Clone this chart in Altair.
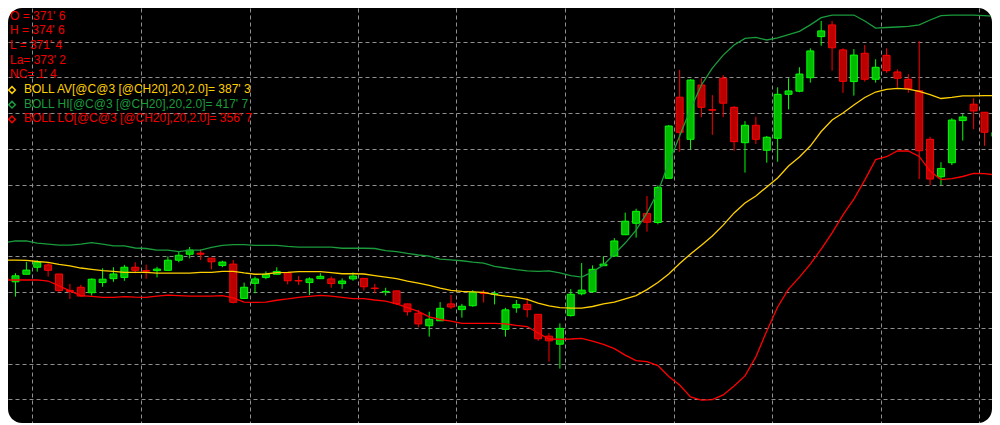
import altair as alt
import pandas as pd

# ---------------- data ----------------
BAR = list(range(-1, 91))
OPEN = [317.3, 315.8, 318.7, 321.4, 322.3, 318.8, 312.5, 313.7, 311.6, 315.5, 317.0,
        317.5, 321.4, 320.1, 320.1, 320.2, 324.1, 326.4, 326.8, 324.9, 322.1,
        322.6, 309.4, 315.2, 317.5, 318.7, 319.3, 316.3, 315.5, 317.0, 316.9,
        315.1, 316.9, 317.1, 313.4, 311.9, 312.3, 307.3, 303.7, 298.9, 300.8,
        307.3, 305.1, 306.6, 311.7, 311.0, 297.5, 305.8, 307.1, 303.3, 294.9,
        291.8, 302.8, 311.2, 312.0, 322.0, 325.7, 333.9, 338.3, 342.1, 338.6,
        355.6, 386.8, 370.6, 391.5, 382.0, 394.1, 382.9, 369.3, 376.0, 366.4,
        371.0, 387.9, 389.1, 394.3, 410.1, 414.6, 405.0, 392.8, 403.7, 393.7,
        402.9, 396.5, 393.7, 389.3, 370.6, 356.2, 361.6, 377.8, 384.1, 381.0, 371.75]
HIGH = [318.4, 319.1, 323.5, 324.1, 323.3, 318.8, 315.0, 314.6, 317.1, 321.0, 321.4,
        322.3, 323.3, 322.4, 321.6, 325.6, 327.4, 329.2, 328.3, 325.0, 323.9,
        324.2, 315.5, 317.8, 319.8, 321.4, 319.4, 318.0, 317.5, 319.1, 317.8,
        317.1, 319.4, 317.2, 315.0, 313.5, 312.4, 307.4, 305.0, 304.3, 308.0,
        310.7, 307.3, 312.6, 312.6, 312.3, 305.8, 308.8, 309.5, 303.4, 296.0,
        299.8, 313.0, 323.0, 322.1, 325.6, 332.6, 342.4, 343.9, 348.8, 352.9,
        376.1, 397.3, 393.7, 394.1, 387.6, 395.3, 383.4, 377.6, 379.3, 371.9,
        390.6, 394.1, 398.3, 405.6, 416.1, 416.1, 405.6, 405.3, 406.9, 401.4,
        405.6, 397.5, 395.7, 408.4, 371.6, 361.8, 378.7, 380.3, 386.4, 381.1, 374.75]
LOW = [315.7, 310.1, 318.7, 319.7, 317.8, 312.0, 309.2, 310.1, 310.5, 313.9, 315.8,
       316.2, 319.1, 317.0, 317.5, 320.1, 323.3, 324.8, 324.2, 320.6, 321.4,
       307.5, 309.3, 311.4, 316.8, 318.6, 314.8, 314.6, 310.7, 316.9, 313.5,
       313.1, 316.2, 312.4, 311.4, 310.5, 306.9, 302.8, 298.3, 294.7, 300.7,
       305.3, 302.0, 306.2, 307.8, 307.1, 294.7, 303.9, 302.1, 293.1, 285.1,
       282.4, 302.4, 310.6, 311.6, 321.9, 325.4, 333.8, 332.8, 335.1, 337.9,
       355.5, 365.8, 366.8, 379.1, 372.3, 379.1, 366.2, 357.8, 368.8, 361.6,
       362.0, 382.1, 388.7, 392.4, 406.6, 397.0, 388.5, 387.4, 392.8, 392.4,
       396.2, 390.6, 388.5, 355.3, 353.0, 353.0, 360.7, 370.1, 374.5, 368.1, 371.5]
CLOSE = [317.1, 318.1, 320.3, 323.3, 320.2, 312.4, 312.1, 310.3, 316.8, 316.8, 318.8,
         321.4, 320.2, 319.9, 320.7, 324.1, 326.0, 328.0, 326.4, 323.5, 323.4,
         307.9, 313.7, 316.9, 318.7, 319.8, 316.2, 316.1, 316.9, 317.9, 315.1,
         316.1, 318.0, 313.9, 313.2, 312.1, 307.4, 304.3, 299.6, 301.4, 305.6,
         306.1, 306.4, 311.8, 311.3, 311.2, 305.0, 307.1, 305.1, 293.9, 293.1,
         297.9, 311.0, 312.6, 320.6, 322.6, 331.5, 339.1, 342.9, 338.7, 352.1,
         375.7, 373.3, 393.4, 382.9, 381.8, 384.5, 369.7, 376.0, 370.6, 371.4,
         387.9, 389.2, 395.7, 404.6, 412.3, 405.8, 392.9, 403.0, 393.7, 398.3,
         397.0, 394.1, 390.1, 366.2, 355.3, 359.4, 378.0, 379.2, 381.5, 373.3, 373.25]

BOLL_HI = [330.9, 331.5, 331.5, 330.7, 330.3, 329.9, 329.9, 330.3, 330.9, 330.3, 329.6,
           329.6, 328.8, 328.6, 328.0, 328.0, 327.4, 328.0, 328.0, 329.0, 329.8,
           330.1, 330.1, 329.8, 329.8, 329.8, 329.4, 329.1, 329.1, 329.1, 329.1,
           328.7, 328.7, 328.7, 328.6, 327.8, 327.4, 326.7, 326.1, 325.7, 324.5,
           324.2, 323.9, 323.4, 323.0, 321.7, 321.1, 320.5, 320.0, 319.8, 320.0,
           319.2, 318.2, 317.6, 319.6, 322.3, 326.5, 330.7, 335.7, 342.3, 350.3,
           361.5, 371.9, 382.3, 391.5, 398.0, 403.0, 406.9, 409.4, 409.8, 408.8,
           409.6, 410.9, 412.1, 414.6, 417.4, 418.4, 418.4, 418.4, 416.1, 413.4,
           413.6, 413.8, 414.0, 414.6, 416.5, 418.2, 418.4, 418.4, 418.4, 418.2, 417.9]
BOLL_AV = [324.1, 324.1, 324.0, 323.6, 323.3, 322.5, 321.9, 321.1, 320.6, 320.1, 319.8,
           319.4, 319.4, 319.4, 319.1, 319.1, 319.1, 319.1, 319.4, 319.4, 319.8,
           319.8, 319.2, 318.7, 318.8, 319.3, 319.4, 319.7, 319.7, 319.7, 319.3,
           318.9, 318.9, 318.8, 318.2, 317.6, 317.0, 316.1, 315.3, 314.4, 313.4,
           312.5, 312.1, 311.9, 311.7, 310.9, 310.3, 309.8, 309.0, 307.6, 306.5,
           305.9, 305.7, 305.7, 306.3, 307.3, 308.0, 309.2, 310.5, 312.8, 315.5,
           318.8, 322.8, 326.5, 329.9, 333.4, 337.6, 342.3, 346.1, 348.8, 352.3,
           355.7, 360.3, 363.8, 368.0, 373.6, 378.0, 380.7, 383.8, 386.7, 388.8,
           389.8, 390.2, 389.9, 389.0, 387.8, 386.3, 386.7, 387.3, 387.3, 387.4, 387.4]
BOLL_LO = [316.5, 316.5, 316.5, 316.5, 316.1, 314.2, 312.3, 310.5, 310.2, 309.8, 309.8,
           310.1, 309.9, 309.8, 310.3, 310.7, 310.5, 310.3, 310.3, 310.3, 310.5,
           309.6, 308.0, 307.9, 308.0, 308.7, 309.2, 309.8, 310.2, 310.6, 310.3,
           309.8, 309.3, 309.3, 308.8, 308.4, 307.3, 305.9, 304.4, 302.3, 301.3,
           300.7, 299.8, 299.8, 299.8, 299.8, 299.6, 299.0, 298.6, 296.1, 293.8,
           293.7, 293.8, 294.0, 293.0, 291.7, 290.1, 287.6, 285.5, 285.1, 283.6,
           279.4, 276.1, 271.5, 270.3, 270.5, 272.3, 275.7, 279.6, 286.9, 296.9,
           306.1, 313.0, 317.6, 322.6, 328.4, 334.6, 341.5, 347.6, 354.9, 362.8,
           363.9, 366.1, 366.1, 364.0, 358.4, 355.1, 355.5, 356.3, 357.5, 357.4, 356.9]

GRID_X = [1.5, 11.5, 21.5, 31.5, 40.5, 50.5, 60.5, 69.5, 79.5, 88.5]
GRID_Y = [421.875, 408.125, 394.375, 380.625, 366.875, 353.125,
          339.375, 325.625, 311.875, 298.125, 284.375, 270.625]

INFO_LINES = ["O = 371' 6", "H = 374' 6", "L = 371' 4", "La= 373' 2", "NC= 1' 4"]
BOLL_LINES = ["BOLL AV[@C@3 [@CH20],20,2.0]= 387' 3",
              "BOLL HI[@C@3 [@CH20],20,2.0]= 417' 7",
              "BOLL LO[@C@3 [@CH20],20,2.0]= 356' 7"]

# ---------------- style / layout ----------------
UP_FILL, DN_FILL = "#00bb00", "#bb0000"
UP_EDGE, DN_EDGE = "#00ff00", "#ff0000"
HI_COL, AV_COL, LO_COL = "#1a9c3c", "#ffd000", "#ff0000"
TXT_RED = "#f00000"
GRID_COL = "#8f8f8f"
FONT = "Arial, Liberation Sans"

W, H = 984, 415
PX_PER_UNIT = 2.6          # pixels per price unit
BAR_STEP = 11              # pixels per bar
Y_TOP = 421.875 + (6 - 8) / PX_PER_UNIT
Y_BOT = Y_TOP - H / PX_PER_UNIT
X0 = -2.5 / BAR_STEP
X1 = X0 + W / BAR_STEP

candles = pd.DataFrame({"bar": BAR, "open": OPEN, "high": HIGH, "low": LOW, "close": CLOSE})
candles["dir"] = ["up" if c >= o else "down" for o, c in zip(OPEN, CLOSE)]
bands = pd.DataFrame({"bar": BAR, "hi": BOLL_HI, "av": BOLL_AV, "lo": BOLL_LO})

xscale = alt.Scale(domain=[X0, X1], nice=False, zero=False)
yscale = alt.Scale(domain=[Y_BOT, Y_TOP], nice=False, zero=False)
grid_axis = dict(grid=True, labels=False, ticks=False, domain=False, title=None,
                 gridColor=GRID_COL, gridDash=[4, 3], gridWidth=1, gridOpacity=1)
X = alt.X("bar:Q", scale=xscale, axis=alt.Axis(values=GRID_X, **grid_axis))

dir_stroke = alt.Stroke("dir:N", scale=alt.Scale(domain=["up", "down"], range=[UP_EDGE, DN_EDGE]), legend=None)
dir_fill = alt.Fill("dir:N", scale=alt.Scale(domain=["up", "down"], range=[UP_FILL, DN_FILL]), legend=None)

wicks = alt.Chart(candles).mark_rule(strokeWidth=1, clip=True).encode(
    x=X,
    y=alt.Y("low:Q", scale=yscale, axis=alt.Axis(values=GRID_Y, **grid_axis)),
    y2="high:Q",
    stroke=dir_stroke,
)
bodies = alt.Chart(candles).mark_bar(size=7, strokeWidth=1, clip=True).encode(
    x=X,
    y=alt.Y("open:Q", scale=yscale),
    y2="close:Q",
    fill=dir_fill,
    stroke=dir_stroke,
)

def band(col, colour):
    return alt.Chart(bands).mark_line(color=colour, strokeWidth=1.3, clip=True).encode(
        x=X, y=alt.Y(f"{col}:Q", scale=yscale))

layers = [wicks, bodies, band("lo", LO_COL), band("av", AV_COL), band("hi", HI_COL)]

# ---------------- legend text (top-left) ----------------
ROW0, ROW_STEP = 7.5, 14.7
one = alt.Data(values=[{}])
for k, t in enumerate(INFO_LINES):
    layers.append(alt.Chart(one).mark_text(align="left", baseline="middle", font=FONT,
                                           fontSize=12, color=TXT_RED).encode(
        x=alt.value(2), y=alt.value(ROW0 + ROW_STEP * k), text=alt.value(t)))
for k, (t, colour) in enumerate(zip(BOLL_LINES, [AV_COL, HI_COL, TXT_RED])):
    yy = ROW0 + ROW_STEP * (k + len(INFO_LINES))
    layers.append(alt.Chart(one).mark_point(shape="diamond", filled=False, size=45,
                                            strokeWidth=1.5, color=colour, opacity=1).encode(
        x=alt.value(4), y=alt.value(yy + 1)))
    layers.append(alt.Chart(one).mark_text(align="left", baseline="middle", font=FONT,
                                           fontSize=12, color=colour).encode(
        x=alt.value(16), y=alt.value(yy), text=alt.value(t)))

chart = alt.layer(*layers).properties(
    width=W, height=H, padding=0,
    autosize=alt.AutoSizeParams(type="none"),
).configure(
    background="white",
).configure_view(
    fill="#000000", strokeWidth=0, cornerRadius=14,
)

chart.save("out.html", embed_options={"renderer": "svg", "actions": False})
